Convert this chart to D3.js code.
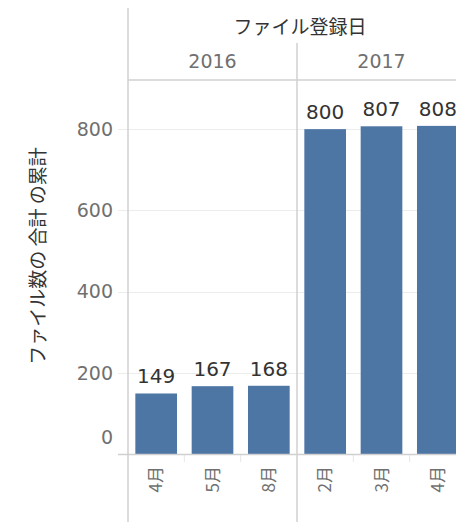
<!DOCTYPE html>
<meta charset="utf-8">
<style>
body { margin: 0; background: #fff; }
text { font-family: "Noto Sans CJK JP", "DejaVu Sans", sans-serif; }
text.num { font-family: "DejaVu Sans", sans-serif; }
.grid line { stroke: #ececec; stroke-width: 1px; }
.frame { stroke: #d0d0d0; stroke-width: 1.5px; fill: none; }
</style>
<svg width="456" height="522"></svg>
<script src="https://cdn.jsdelivr.net/npm/d3@7"></script>
<script>

// data
var years = ["2016", "2017"];
var months = [["4月", "5月", "8月"], ["2月", "3月", "4月"]];
var values = [[149, 167, 168], [800, 807, 808]];
var yTicks = [0, 200, 400, 600, 800];

var svg = d3.select("svg"),
    left = 128,
    panelW = 169,
    plotTop = 80,
    base = 454;

var y = d3.scaleLinear()
    .domain([0, 921])
    .range([base, plotTop]);

var xYear = d3.scaleBand()
    .domain(years)
    .range([left, left + panelW * years.length]);

// gridlines
svg.append("g")
    .attr("class", "grid")
  .selectAll("line")
    .data(yTicks.filter(function(d) { return d > 0; }))
  .enter().append("line")
    .attr("x1", 118)
    .attr("x2", 456)
    .attr("y1", function(d) { return Math.round(y(d)) + 0.5; })
    .attr("y2", function(d) { return Math.round(y(d)) + 0.5; });

// y tick labels
svg.append("g")
  .selectAll("text")
    .data(yTicks)
  .enter().append("text")
    .attr("class", "num")
    .attr("x", 113)
    .attr("y", function(d) { return d === 0 ? y(d) - 17 : y(d); })
    .attr("dy", "0.36em")
    .attr("text-anchor", "end")
    .style("font-size", "19px")
    .style("fill", "#707070")
    .text(function(d) { return d; });

// y title
svg.append("text")
    .attr("transform", "translate(38," + 256 + ") rotate(-90)")
    .attr("text-anchor", "middle")
    .attr("dy", "0.35em")
    .style("font-size", "19px")
    .style("fill", "#333")
    .text("ファイル数の 合計 の累計");

// header title
svg.append("text")
    .attr("x", 300)
    .attr("y", 27)
    .attr("dy", "0.36em")
    .attr("text-anchor", "middle")
    .style("font-size", "19px")
    .style("fill", "#333")
    .text("ファイル登録日");

// panels
var panel = svg.selectAll(".panel")
    .data(years)
  .enter().append("g")
    .attr("class", "panel")
    .attr("transform", function(d) { return "translate(" + xYear(d) + ",0)"; });

panel.append("text")
    .attr("class", "num")
    .attr("x", panelW / 2)
    .attr("y", 61)
    .attr("dy", "0.36em")
    .attr("text-anchor", "middle")
    .style("font-size", "19px")
    .style("fill", "#707070")
    .text(function(d) { return d; });

panel.each(function(yr, i) {
  var g = d3.select(this);
  var x = d3.scaleBand()
      .domain(months[i].map(function(m, j) { return j; }))
      .range([0, panelW])
      .paddingInner(0.26)
      .paddingOuter(0.13);
  var step = x.step();

  var rows = values[i].map(function(v, j) { return {v: v, j: j, m: months[i][j]}; });

  g.selectAll("rect")
      .data(rows)
    .enter().append("rect")
      .attr("x", function(d) { return x(d.j); })
      .attr("width", x.bandwidth())
      .attr("y", function(d) { return y(d.v); })
      .attr("height", function(d) { return base - y(d.v); })
      .style("fill", "#4e76a5");

  g.selectAll(".val")
      .data(rows)
    .enter().append("text")
      .attr("class", "val num")
      .attr("x", function(d) { return x(d.j) + x.bandwidth() / 2; })
      .attr("y", function(d) { return y(d.v) - 10; })
      .attr("text-anchor", "middle")
      .style("font-size", "20px")
      .style("fill", "#333")
      .text(function(d) { return d.v; });

  g.selectAll(".mon")
      .data(rows)
    .enter().append("text")
      .attr("class", "mon")
      .attr("transform", function(d) {
        return "translate(" + (x(d.j) + x.bandwidth() / 2) + ",466) rotate(-90)";
      })
      .attr("dy", "0.36em")
      .attr("text-anchor", "end")
      .style("font-size", "17px")
      .style("fill", "#707070")
      .text(function(d) { return d.m; });

  // small separators between categories below the axis
  g.selectAll(".sep")
      .data(rows.slice(1))
    .enter().append("line")
      .attr("x1", function(d) { return x(d.j) - (step - x.bandwidth()) / 2; })
      .attr("x2", function(d) { return x(d.j) - (step - x.bandwidth()) / 2; })
      .attr("y1", base)
      .attr("y2", base + 8)
      .style("stroke", "#e6e6e6");
});

// frame lines
svg.append("line").attr("class", "frame")
    .attr("x1", left).attr("x2", left).attr("y1", 8).attr("y2", 522);
svg.append("line").attr("class", "frame")
    .attr("x1", xYear("2017")).attr("x2", xYear("2017")).attr("y1", 43).attr("y2", 522);
svg.append("line").attr("class", "frame")
    .attr("x1", left).attr("x2", 456).attr("y1", plotTop).attr("y2", plotTop);
svg.append("line").attr("class", "frame")
    .attr("x1", 118).attr("x2", 456).attr("y1", base + 0.5).attr("y2", base + 0.5);

</script>
